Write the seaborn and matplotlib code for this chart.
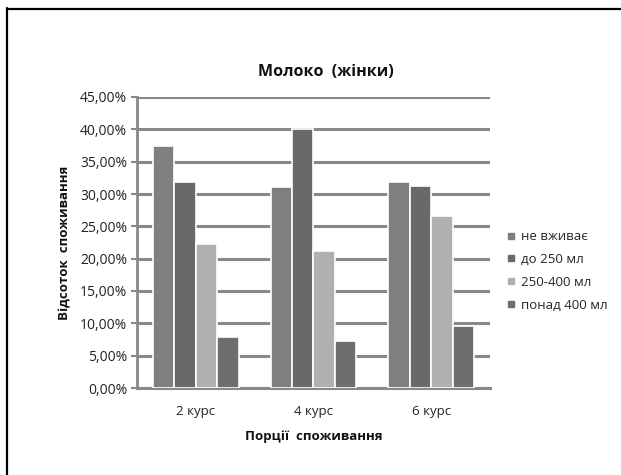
import matplotlib
matplotlib.use("Agg")
import matplotlib.pyplot as plt
from matplotlib.lines import Line2D
from matplotlib.ticker import FuncFormatter, MultipleLocator
import seaborn as sns
import pandas as pd

courses = ["2 курс", "4 курс", "6 курс"]
portions = ["не вживає", "до 250 мл", "250-400 мл", "понад 400 мл"]
ne_vzhyvaie = [37.5, 31.1, 31.9]
do_250 = [31.8, 40.0, 31.3]
vid_250_do_400 = [22.3, 21.2, 26.6]
ponad_400 = [7.9, 7.2, 9.6]

colors = ["#7f7f7f", "#696969", "#b0b0b0", "#6e6e6e"]

rows = []
for series, vals in zip(portions, [ne_vzhyvaie, do_250, vid_250_do_400, ponad_400]):
    for c, v in zip(courses, vals):
        rows.append({"course": c, "portion": series, "value": v})
df = pd.DataFrame(rows)

sns.set_theme(style="white")
plt.rcParams["font.family"] = ["Open Sans", "DejaVu Sans"]

fig = plt.figure(figsize=(6.21, 4.75), dpi=100)
ax = fig.add_axes([137 / 621, (475 - 388) / 475, (490 - 137) / 621, (388 - 97) / 475])

sns.barplot(data=df, x="course", y="value", hue="portion", hue_order=portions,
            palette=colors, width=0.73, edgecolor="white", linewidth=1.2,
            saturation=1, ax=ax, legend=False, zorder=3)

ax.set_ylim(0, 45)
ax.yaxis.set_major_locator(MultipleLocator(5))
ax.yaxis.set_major_formatter(FuncFormatter(lambda v, p: f"{v:.2f}%".replace(".", ",")))
ax.grid(axis="y", color="#888888", linewidth=2.2, zorder=0)
ax.set_axisbelow(True)
for s in ["top", "right"]:
    ax.spines[s].set_visible(False)
ax.spines["left"].set_color("#888888")
ax.spines["left"].set_linewidth(2)
ax.spines["bottom"].set_color("#888888")
ax.spines["bottom"].set_linewidth(2.2)
ax.tick_params(axis="y", which="major", left=True, length=4, width=1.5, color="#888888",
               labelsize=10, labelcolor="#222222", pad=3)
ax.tick_params(axis="x", bottom=False, length=0, labelsize=9.5, labelcolor="#222222", pad=12)

ax.set_xlabel("Порції  споживання", fontsize=9.5, fontweight="bold", labelpad=9, color="#111111")
ax.set_ylabel("Відсоток  споживання", fontsize=9.5, fontweight="bold", labelpad=6, color="#111111")
ax.set_title("Молоко  (жінки)", fontsize=11.5, fontweight="bold", pad=15, x=0.535,
             color="#111111")

handles = [Line2D([0], [0], marker="s", linestyle="none", markersize=4.5,
                  markerfacecolor=c, markeredgecolor=c) for c in colors]
fig.legend(handles, portions, loc="center left", bbox_to_anchor=(493 / 621, 1 - 271 / 475),
           frameon=False, fontsize=9.5, handletextpad=0.2, labelspacing=0.75,
           handlelength=1.0)

# thin frame on the top and left edges
fig.add_artist(Line2D([7 / 621, 1], [1 - 8.5 / 475] * 2, color="black", linewidth=1.6))
fig.add_artist(Line2D([7 / 621] * 2, [0, 1 - 8 / 475], color="black", linewidth=1.6))

fig.savefig("out.png", dpi=100, facecolor="white")
